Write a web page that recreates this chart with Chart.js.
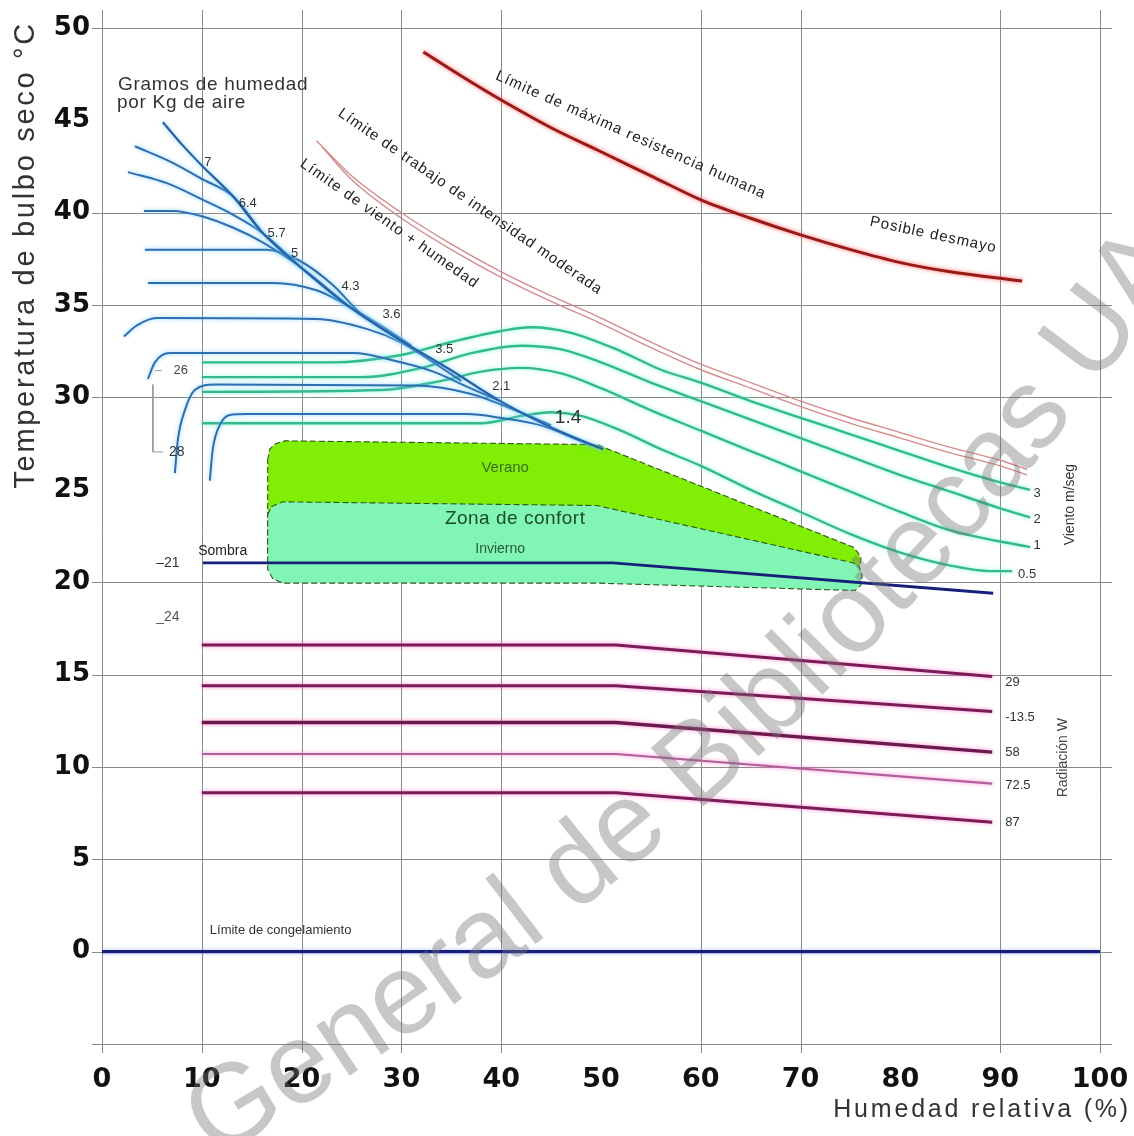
<!DOCTYPE html>
<html><head><meta charset="utf-8">
<script src="https://cdn.jsdelivr.net/npm/chart.js@4/dist/chart.umd.min.js"></script>
<style>html,body{margin:0;padding:0;background:#fff;}canvas{display:block;}</style>
</head><body>
<canvas id="c" width="1134" height="1136"></canvas>
<script>
// ---------------- DATA ----------------
const xTickValues = [0,10,20,30,40,50,60,70,80,90,100];
const yTickValues = [0,5,10,15,20,25,30,35,40,45,50];
const xGridValues = [0,10,20,30,40,60,70,90,100];
const yGridValues = [-5,0,5,10,15,20,30,35,40,50];

// Gramos de humedad por Kg de aire (blue curves)
const hum7   = [[6.1,44.9],[8,43.7],[10.1,42.5],[13.1,40.9],[16.1,38.9],[19.8,37.1],[24.8,34.9],[29.9,33.1],[34.9,31.5],[39.9,29.8],[44.9,28.4],[50.2,27.2]];
const hum64  = [[3.3,43.6],[7.1,42.7],[10.1,41.8],[13.1,40.9],[16.1,38.9]];
const hum57  = [[2.6,42.2],[6.5,41.6],[10.1,40.7],[13.1,39.9],[16.1,38.9],[19.8,37.1]];
const hum5   = [[4.2,40.1],[7.1,40.1],[10.1,39.8],[13.1,39.2],[16.1,38.4],[19.8,37.1],[24.8,34.9]];
const hum43  = [[4.3,38.0],[16.5,38.0],[19.8,37.4],[23.1,36.1],[26,34.5],[29.9,33.1]];
const hum36  = [[4.6,36.2],[17.1,36.2],[21.5,35.8],[24.5,35.0],[27.9,33.9],[31,32.8]];
const hum35  = [[2.2,33.3],[3.5,33.9],[5.5,34.3],[21.5,34.25],[26.6,33.7],[29.9,33.0],[33.2,31.9],[36,30.9]];
const hum21  = [[4.6,31.0],[5.3,31.9],[6.8,32.4],[25.2,32.4],[29.2,32.0],[33.2,31.4],[36.5,30.6],[39.9,29.8]];
const hum17  = [[7.3,25.9],[7.6,27.7],[8.3,29.3],[9.3,30.4],[11.3,30.7],[31.6,30.65],[36.9,30.2],[41.9,29.2],[45,28.5]];
const hum14  = [[10.8,25.5],[11.1,27.2],[11.8,28.5],[12.8,29.05],[14.5,29.1],[36.6,29.1],[39.9,28.9],[43.9,28.5],[48.6,27.5],[50.2,27.2]];
const humLabels = ['7','6.4','5.7','5','4.3','3.6','3.5','2.1','1.4'];

// Viento m/seg (green curves)
const wind3  = [[10,31.9],[23,31.9],[30,32.3],[35,33.0],[40,33.6],[43,33.8],[47,33.5],[52,32.5],[56,31.5],[60,30.8],[65,29.8],[70,28.9],[75,28.0],[80,27.1],[85,26.2],[90,25.4],[93,25.0]];
const wind2  = [[10,31.1],[26,31.1],[32,31.6],[37,32.4],[42,32.8],[46,32.6],[50,31.9],[55,30.8],[60,29.8],[65,28.8],[70,27.8],[75,26.8],[80,25.8],[85,24.9],[90,24.0],[93,23.5]];
const wind1  = [[10,30.3],[28,30.4],[34,30.9],[38,31.4],[42,31.6],[46,31.3],[50,30.5],[55,29.3],[60,28.2],[65,27.1],[70,26.0],[75,24.9],[80,23.8],[85,22.8],[90,22.2],[93,21.9]];
const wind05 = [[10,28.6],[38,28.6],[42,29.0],[45,29.2],[48,29.0],[52,28.2],[56,27.2],[60,26.3],[65,25.0],[70,23.8],[75,22.6],[80,21.6],[85,20.9],[89,20.6],[91.2,20.6]];
const windLabels = ['3','2','1','0.5'];

// Limits
const maxResistance = [[32.2,48.7],[36,47.4],[40,46.1],[45,44.6],[50,43.3],[55,42.0],[60,40.7],[65,39.7],[70,38.8],[75,38.0],[80,37.3],[85,36.8],[90,36.45],[92.2,36.3]];
const moderateWorkA = [[21.5,43.9],[25,42.0],[30,40.0],[35,38.3],[40,36.8],[45,35.5],[50,34.3],[55,33.0],[60,31.8],[65,30.8],[70,29.8],[75,28.9],[80,28.1],[85,27.3],[90,26.6],[92.7,26.1]];
const moderateWorkB = [[22.0,43.6],[25,41.8],[30,39.7],[35,38.0],[40,36.5],[45,35.2],[50,34.0],[55,32.7],[60,31.5],[65,30.5],[70,29.5],[75,28.6],[80,27.8],[85,27.0],[90,26.3],[92.7,25.8]];

// Radiación W (magenta lines)
const rad29  = [[10,16.6],[51.5,16.6],[89.2,14.9]];
const rad135 = [[10,14.4],[51.5,14.4],[89.2,13.0]];
const rad58  = [[10,12.4],[51.5,12.4],[89.2,10.8]];
const rad725 = [[10,10.7],[51.5,10.7],[89.2,9.1]];
const rad87  = [[10,8.6],[51.5,8.6],[89.2,7.0]];
const radLabels = ['29','-13.5','58','72.5','87'];

// Sombra & congelamiento
const shade  = [[10.1,21.05],[51.2,21.05],[89.3,19.4]];
const freeze = [[0,0],[100,0]];

// Zona de confort
const summerZone = [[16.6,26.6],[16.8,27.2],[17.4,27.5],[18.3,27.65],[49.6,27.45],[75.25,21.9],[75.75,21.6],[76.05,21.3],[75.95,20.9],[75.55,20.7],[60,21.5],[16.6,21.5],[16.6,26.6]];
const winterZone = [[16.6,23.65],[17.0,24.1],[18.1,24.35],[49.6,24.15],[75.25,21.05],[75.85,20.85],[76.15,20.4],[76.05,19.85],[75.45,19.55],[49.6,19.95],[18.1,19.95],[17.1,20.2],[16.6,20.7],[16.6,23.65]];

// Bracket joining 26 / 28
const bracket = [[5.1,30.7],[5.1,27.05],[6.1,27.05]];
const bracketTop = [[5.3,31.45],[6.0,31.45]];

// ---------------- CHART ----------------
const XY = a => a.map(([x,y]) => ({x,y}));
const BLUE = '#2d6fb0', BLUE_GLOW = 'rgba(110,200,255,0.85)';
const GREEN = '#34b98e', GREEN_GLOW = 'rgba(120,255,200,0.9)';
const RAD = '#7a1c57', RAD_GLOW = 'rgba(255,110,200,0.8)';

function curve(data, color, width, glow, order, extra) {
  return Object.assign({data: XY(data), borderColor: color, borderWidth: width, glow: glow,
    cubicInterpolationMode: 'monotone', pointRadius: 0, fill: false, order: order}, extra || {});
}
function straight(data, color, width, glow, order, extra) {
  return Object.assign({data: XY(data), borderColor: color, borderWidth: width, glow: glow,
    tension: 0, pointRadius: 0, fill: false, order: order}, extra || {});
}

const datasets = [
  straight(summerZone, '#2b5a1c', 1.1, null, 100, {fill: 'shape', backgroundColor: '#80ee05', borderDash: [6,3]}),
  straight(winterZone, '#2b5a1c', 1.1, null, 99, {fill: 'shape', backgroundColor: '#80f5b4', borderDash: [6,3]}),
  curve(wind3, GREEN, 2.4, GREEN_GLOW, 60),
  curve(wind2, GREEN, 2.4, GREEN_GLOW, 60),
  curve(wind1, GREEN, 2.4, GREEN_GLOW, 60),
  curve(wind05, GREEN, 2.4, GREEN_GLOW, 60),
  curve(moderateWorkA, '#d58c88', 1.4, null, 55),
  curve(moderateWorkB, '#d58c88', 1.4, null, 55),
  curve(hum64, BLUE, 2, BLUE_GLOW, 40),
  curve(hum57, BLUE, 2, BLUE_GLOW, 40),
  curve(hum5, BLUE, 2, BLUE_GLOW, 40),
  curve(hum43, BLUE, 2, BLUE_GLOW, 40),
  curve(hum36, BLUE, 2, BLUE_GLOW, 40),
  curve(hum35, BLUE, 2, BLUE_GLOW, 40),
  curve(hum21, BLUE, 2, BLUE_GLOW, 40),
  curve(hum17, BLUE, 2, BLUE_GLOW, 40),
  curve(hum14, BLUE, 2, BLUE_GLOW, 40),
  curve(hum7, '#2463a6', 2.2, BLUE_GLOW, 39),
  curve(maxResistance, '#9a1a1a', 3, 'rgba(255,90,90,0.9)', 30),
  straight(rad29, RAD, 3, RAD_GLOW, 30),
  straight(rad135, RAD, 3, RAD_GLOW, 30),
  straight(rad58, '#6a1a4c', 3.4, RAD_GLOW, 30),
  straight(rad725, '#b0609a', 2.2, RAD_GLOW, 30),
  straight(rad87, RAD, 3, RAD_GLOW, 30),
  straight(shade, '#16207a', 2.8, null, 20),
  straight(freeze, '#16207a', 3.2, 'rgba(120,140,255,0.5)', 10),
  straight(bracket, '#9a9a9a', 1, null, 10),
  straight(bracketTop, '#9a9a9a', 1, null, 10)
];

const SANS = '"Liberation Sans", Arial, sans-serif';

function txt(ctx, s, x, y, o) {
  ctx.save();
  ctx.translate(x, y);
  if (o.angle) ctx.rotate(o.angle * Math.PI / 180);
  ctx.font = o.font;
  ctx.fillStyle = o.color || '#222';
  ctx.textAlign = o.align || 'center';
  ctx.textBaseline = o.baseline || 'middle';
  if ('letterSpacing' in ctx) ctx.letterSpacing = o.spacing || '0px';
  ctx.fillText(s, 0, 0);
  ctx.restore();
}

const gridPlugin = {
  id: 'gridlines',
  beforeDatasetsDraw(chart) {
    const {ctx, chartArea: a, scales: {x, y}} = chart;
    ctx.save();
    ctx.strokeStyle = '#8a8a8a';
    ctx.lineWidth = 1;
    ctx.beginPath();
    xGridValues.forEach(v => { const p = Math.round(x.getPixelForValue(v)) + 0.5; ctx.moveTo(p, a.top - 18); ctx.lineTo(p, a.bottom + 9); });
    yGridValues.forEach(v => { const p = Math.round(y.getPixelForValue(v)) + 0.5; ctx.moveTo(a.left - 10, p); ctx.lineTo(a.right + 12, p); });
    ctx.stroke();
    ctx.restore();
  }
};

const glowPlugin = {
  id: 'glow',
  beforeDatasetDraw(chart, args) {
    const ds = chart.data.datasets[args.index];
    if (ds.glow) { chart.ctx.save(); chart.ctx.shadowColor = ds.glow; chart.ctx.shadowBlur = 4; }
  },
  afterDatasetDraw(chart, args) {
    const ds = chart.data.datasets[args.index];
    if (ds.glow) chart.ctx.restore();
  }
};

const textPlugin = {
  id: 'texts',
  afterDatasetsDraw(chart) {
    const {ctx, chartArea: a, scales: {x, y}} = chart;
    const X = v => x.getPixelForValue(v), Y = v => y.getPixelForValue(v);
    // tick labels
    xTickValues.forEach(v => txt(ctx, String(v), X(v), a.bottom + 36, {font: 'bold 27px "DejaVu Sans"', color: '#111'}));
    yTickValues.forEach(v => txt(ctx, String(v), a.left - 12, Y(v), {font: 'bold 26px "DejaVu Sans"', color: '#111', align: 'right'}));
    // axis titles
    txt(ctx, 'Temperatura de bulbo seco °C', 26, a.top - 7, {font: '29px ' + SANS, color: '#333', angle: -90, align: 'right', spacing: '2.7px'});
    txt(ctx, 'Humedad relativa (%)', 1131, a.bottom + 66, {font: '25px ' + SANS, color: '#333', align: 'right', spacing: '2.8px'});

    // humidity legend text
    txt(ctx, 'Gramos de humedad', X(1.6), Y(46.9), {font: '19px ' + SANS, color: '#333', align: 'left', spacing: '0.7px'});
    txt(ctx, 'por Kg de aire', X(1.5), Y(45.95), {font: '19px ' + SANS, color: '#333', align: 'left', spacing: '0.7px'});
    const humPos = [[10.6,42.7],[14.6,40.5],[17.5,38.9],[19.3,37.8],[24.9,36.0],[29.0,34.5],[34.3,32.6],[40.0,30.6],[46.7,28.9]];
    humLabels.forEach((s, i) => txt(ctx, s, X(humPos[i][0]), Y(humPos[i][1]), {font: (i === 8 ? '19px ' : '13px ') + SANS, color: '#333'}));
    txt(ctx, '26', X(7.9), Y(31.45), {font: '13px ' + SANS, color: '#444'});
    txt(ctx, '28', X(7.5), Y(27.05), {font: '14px ' + SANS, color: '#333'});
    txt(ctx, '–21', X(6.6), Y(21.05), {font: '14px ' + SANS, color: '#333'});
    txt(ctx, '_24', X(6.6), Y(18.1), {font: '14px ' + SANS, color: '#555'});
    txt(ctx, 'Sombra', X(12.1), Y(21.7), {font: '14px ' + SANS, color: '#222'});
    txt(ctx, 'Límite de congelamiento', X(10.8), Y(1.15), {font: '13px ' + SANS, color: '#333', align: 'left'});

    // comfort zone texts
    txt(ctx, 'Verano', X(40.4), Y(26.2), {font: '15px ' + SANS, color: '#3b6b25'});
    txt(ctx, 'Zona de confort', X(41.4), Y(23.45), {font: '19px ' + SANS, color: '#1c4a2a', spacing: '0.5px'});
    txt(ctx, 'Invierno', X(39.9), Y(21.8), {font: '14px ' + SANS, color: '#2a5a3a'});

    // wind labels
    const windPos = [[93.7,24.8],[93.7,23.4],[93.7,22.0],[92.7,20.4]];
    windLabels.forEach((s, i) => txt(ctx, s, X(windPos[i][0]), Y(windPos[i][1]), {font: '13px ' + SANS, color: '#333'}));
    txt(ctx, 'Viento m/seg', X(97.0), Y(24.2), {font: '14px ' + SANS, color: '#333', angle: -90});

    // radiation labels
    const radY = [14.6, 12.7, 10.8, 9.0, 7.0];
    radLabels.forEach((s, i) => txt(ctx, s, X(90.5), Y(radY[i]), {font: '13px ' + SANS, color: '#333', align: 'left'}));
    txt(ctx, 'Radiación W', X(96.3), Y(10.5), {font: '14px ' + SANS, color: '#444', angle: -90});

    // limit labels
    txt(ctx, 'Límite de máxima resistencia humana', X(53.0), Y(44.2), {font: '15px ' + SANS, color: '#222', angle: 24, spacing: '1.2px'});
    txt(ctx, 'Posible desmayo', X(83.3), Y(38.8), {font: '15px ' + SANS, color: '#222', angle: 12, spacing: '1px'});
    txt(ctx, 'Límite de trabajo de intensidad moderada', X(36.9), Y(40.6), {font: '15px ' + SANS, color: '#222', angle: 34.5, spacing: '1px'});
    txt(ctx, 'Límite de viento + humedad', X(28.8), Y(39.4), {font: '15px ' + SANS, color: '#222', angle: 35, spacing: '1.1px'});
  },
  afterDraw(chart) {
    // watermark (visible part) set along a gentle arc
    const ctx = chart.ctx;
    const text = 'General de Bibliotecas UAQ';
    ctx.save();
    ctx.font = '114px ' + SANS;
    ctx.fillStyle = 'rgba(115,115,115,0.4)';
    ctx.textAlign = 'center';
    ctx.textBaseline = 'alphabetic';
    const cx = -1310, cy = -1469, R = 3038;
    const sG = ctx.measureText('G').width / 2;
    const phiG = 59.07 * Math.PI / 180;
    for (let i = 0; i < text.length; i++) {
      const ch = text[i];
      if (ch === ' ') continue;
      const s = ctx.measureText(text.slice(0, i)).width + ctx.measureText(ch).width / 2;
      const phi = phiG - (s - sG) / R;
      const px = cx + R * Math.cos(phi), py = cy + R * Math.sin(phi);
      ctx.save();
      ctx.translate(px, py);
      ctx.rotate(Math.atan2(-Math.cos(phi), Math.sin(phi)));
      ctx.fillText(ch, 0, 0);
      ctx.restore();
    }
    ctx.restore();
  }
};

new Chart(document.getElementById('c'), {
  type: 'line',
  data: {datasets},
  options: {
    responsive: false,
    animation: false,
    layout: {padding: {left: 102, right: 34, top: 28, bottom: 92}},
    plugins: {legend: {display: false}, tooltip: {enabled: false}},
    scales: {
      x: {type: 'linear', min: 0, max: 100, display: false},
      y: {type: 'linear', min: -5, max: 50, display: false}
    },
    elements: {point: {radius: 0}}
  },
  plugins: [gridPlugin, glowPlugin, textPlugin]
});
</script>
</body></html>
